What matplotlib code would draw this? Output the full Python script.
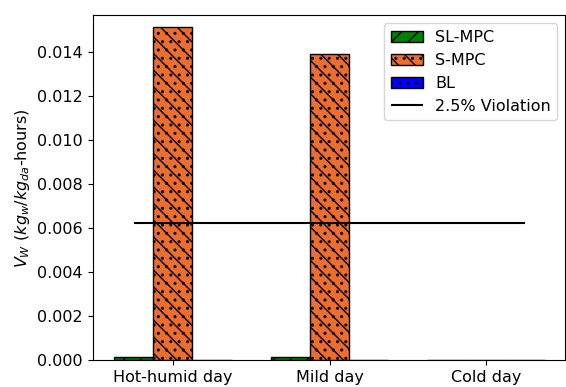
import numpy as np
import matplotlib
matplotlib.use('Agg')
from matplotlib import pyplot as plt

plt.rcParams['font.size'] = 11.5
plt.rcParams['hatch.linewidth'] = 1.0

days = ['Hot-humid day', 'Mild day', 'Cold day']
sl_mpc = [0.00013, 0.00012, 0.0]
s_mpc = [0.01514, 0.01390, 0.0]
bl = [0.0, 0.0, 0.0]
violation = 0.00622

x = np.arange(len(days))
w = 0.25

fig = plt.figure(figsize=(5.66, 3.87), dpi=100)
ax = fig.add_axes([0.164, 0.07, 0.835, 0.89])

b1 = ax.bar(x - w, sl_mpc, w, color='green', edgecolor='black', hatch='//', label='SL-MPC')
b2 = ax.bar(x, s_mpc, w, color='#ec6e2f', edgecolor='black', hatch='\\\\..', label='S-MPC')
b3 = ax.bar(x + w, bl, w, color='blue', edgecolor='black', hatch='..', label='BL')
ln = ax.hlines(violation, x[0] - w, x[-1] + w, colors='black', linewidth=1.5,
               label='2.5% Violation')

ax.set_xticks(x)
ax.set_xticklabels(days)
ax.set_xlim(-0.51, 2.505)
ax.set_ylim(0, 0.01565)
ax.set_ylabel('$V_W$ ($kg_w/kg_{da}$-hours)')
ax.legend(handles=[b1, b2, b3, ln], loc='upper right')

fig.savefig('out.png', dpi=100)
